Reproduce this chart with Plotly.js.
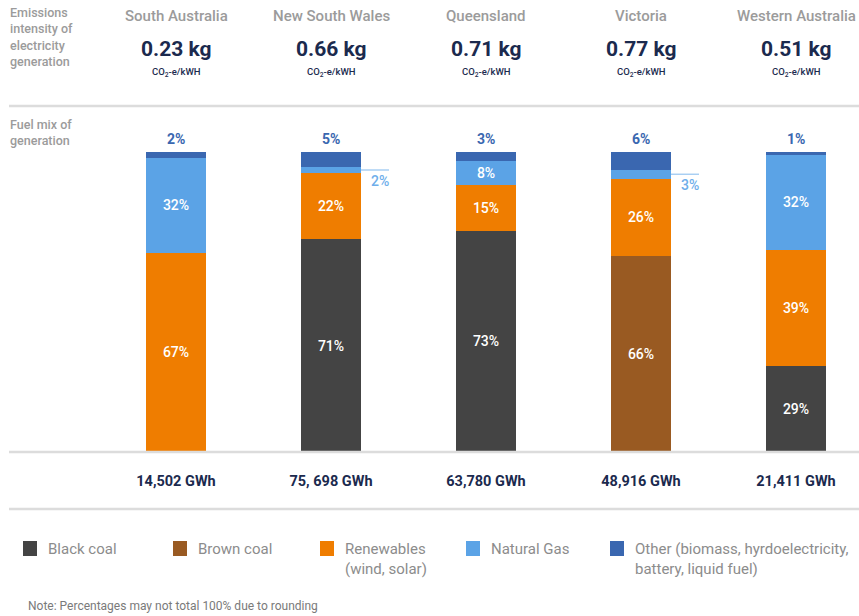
<!DOCTYPE html>
<html>
<head>
<meta charset="utf-8">
<script src="https://cdn.plot.ly/plotly-3.0.1.min.js"></script>
<style>html,body{margin:0;padding:0;background:#fff;}#chart{width:859px;height:616px;}</style>
</head>
<body>
<div id="chart"></div>
<script>
// ---- Data ----
const states = ['South Australia', 'New South Wales', 'Queensland', 'Victoria', 'Western Australia'];
const intensity = ['0.23', '0.66', '0.71', '0.77', '0.51'];
const generationLabels = ['14,502 GWh', '75, 698 GWh', '63,780 GWh', '48,916 GWh', '21,411 GWh'];
const blackCoal = [0, 71, 73, 0, 29];
const brownCoal = [0, 0, 0, 66, 0];
const renewables = [67, 22, 15, 26, 39];
const naturalGas = [32, 2, 8, 3, 32];
const other = [2, 5, 3, 6, 1];

const seriesNames = ['Black coal', 'Brown coal', 'Renewables<br>(wind, solar)', 'Natural Gas', 'Other (biomass, hyrdoelectricity,<br>battery, liquid fuel)'];
const seriesColors = ['#444444', '#995a22', '#ef7d00', '#5ba3e6', '#3a67b0'];
const seriesData = [blackCoal, brownCoal, renewables, naturalGas, other];

// ---- Geometry helpers ----
const W = 859, H = 616, ML = 114, MR = 1, MT = 152, MB = 164;
const PW = W - ML - MR, PH = H - MT - MB;
const px = x => (x - ML) / PW;
const py = y => (H - MB - y) / PH;
const barW = 60 / 155;
const xs = states.map((s, i) => i);

const FONT = 'Roboto, "Open Sans", sans-serif';
const GRAY = '#9b9b9b', NAVY = '#1b2a4e';

const traces = seriesData.map((vals, k) => ({
  type: 'bar',
  x: xs,
  y: vals,
  name: seriesNames[k],
  width: barW,
  marker: {color: seriesColors[k], line: {width: 0}},
  text: vals.map(v => (k < 4 && v >= 8) ? v + '%' : ''),
  textposition: 'inside',
  insidetextanchor: 'middle',
  textangle: 0,
  constraintext: 'none',
  textfont: {color: '#ffffff', size: 14, family: FONT, weight: 500},
  hoverinfo: 'skip',
  showlegend: false
}));

const annotations = [];
const shapes = [];

// Header left labels
annotations.push({xref: 'paper', yref: 'paper', x: px(8), y: py(3), xanchor: 'left', yanchor: 'top', align: 'left',
  text: 'Emissions<br>intensity of<br>electricity<br>generation', showarrow: false,
  font: {size: 12.5, color: GRAY, family: FONT, weight: 500}});
annotations.push({xref: 'paper', yref: 'paper', x: px(8), y: py(115), xanchor: 'left', yanchor: 'top', align: 'left',
  text: 'Fuel mix of<br>generation', showarrow: false,
  font: {size: 12.5, color: GRAY, family: FONT, weight: 500}});

states.forEach((s, i) => {
  annotations.push({xref: 'x', yref: 'paper', x: i, y: py(16), yanchor: 'middle', text: s, showarrow: false,
    font: {size: 15, color: GRAY, family: FONT, weight: 500}});
  annotations.push({xref: 'x', yref: 'paper', x: i, y: py(48.5), yanchor: 'middle', text: intensity[i] + ' kg', showarrow: false,
    font: {size: 21, color: NAVY, family: FONT, weight: 700}});
  annotations.push({xref: 'x', yref: 'paper', x: i, y: py(72), yanchor: 'middle', text: 'CO<sub>2</sub>-e/kWH', showarrow: false,
    font: {size: 9.5, color: NAVY, family: FONT, weight: 500}});
  // "Other" label above bar
  annotations.push({xref: 'x', yref: 'y', x: i, y: 100, yanchor: 'bottom', yshift: 3, text: other[i] + '%', showarrow: false,
    font: {size: 14, color: '#3a67b0', family: FONT, weight: 700}});
  // small natural gas label at side
  if (naturalGas[i] < 8) {
    const tot = blackCoal[i] + brownCoal[i] + renewables[i] + naturalGas[i] + other[i];
    const base = (blackCoal[i] + brownCoal[i] + renewables[i]) / tot * 100;
    const mid = base + naturalGas[i] / tot * 100 / 2;
    const x0 = i + barW / 2;
    const x1 = x0 + 28 / 155;
    shapes.push({type: 'line', xref: 'x', yref: 'y', x0: x0, x1: x1, y0: mid, y1: mid,
      line: {color: '#a9cff3', width: 1.5}});
    annotations.push({xref: 'x', yref: 'y', x: x0 + 19 / 155, y: mid, yanchor: 'top', yshift: -1,
      text: naturalGas[i] + '%', showarrow: false,
      font: {size: 14, color: '#6eaeea', family: FONT, weight: 500}});
  }
});

// Manual legend (swatch + label per series)
const legendX = [23, 173, 320, 466, 610];
seriesNames.forEach((n, k) => {
  shapes.push({type: 'rect', xref: 'paper', yref: 'paper', x0: px(legendX[k]), x1: px(legendX[k] + 14),
    y0: py(541), y1: py(556), fillcolor: seriesColors[k], line: {width: 0}});
  annotations.push({xref: 'paper', yref: 'paper', x: px(legendX[k] + 23), y: py(538), xanchor: 'left', yanchor: 'top',
    align: 'left', text: n, showarrow: false,
    font: {size: 15, color: '#8c8c8c', family: FONT}});
});

// Note
annotations.push({xref: 'paper', yref: 'paper', x: px(26), y: py(606), xanchor: 'left', yanchor: 'middle',
  text: 'Note: Percentages may not total 100% due to rounding', showarrow: false,
  font: {size: 12, color: '#7a7a7a', family: FONT}});

// Separator lines
[106, 452, 509].forEach(yv => {
  shapes.push({type: 'line', xref: 'paper', yref: 'paper', x0: px(9), x1: 1.01, y0: py(yv), y1: py(yv),
    line: {color: '#dcdcdc', width: 2.5}, layer: 'above'});
});

const layout = {
  width: W, height: H,
  margin: {l: ML, r: MR, t: MT, b: MB, pad: 0},
  paper_bgcolor: '#ffffff', plot_bgcolor: '#ffffff',
  barmode: 'stack',
  barnorm: 'percent',
  showlegend: false,
  xaxis: {range: [-0.4, 4.4], tickvals: xs, ticktext: generationLabels, ticks: '', showgrid: false,
    zeroline: false, showline: false, fixedrange: true, ticklabelstandoff: 18, automargin: false,
    tickfont: {size: 14.5, color: NAVY, family: FONT, weight: 700}},
  yaxis: {range: [0, 100], visible: false, fixedrange: true, automargin: false},
  annotations: annotations,
  shapes: shapes,
  font: {family: FONT}
};

Plotly.newPlot('chart', traces, layout, {displayModeBar: false, staticPlot: true});
</script>
</body>
</html>
